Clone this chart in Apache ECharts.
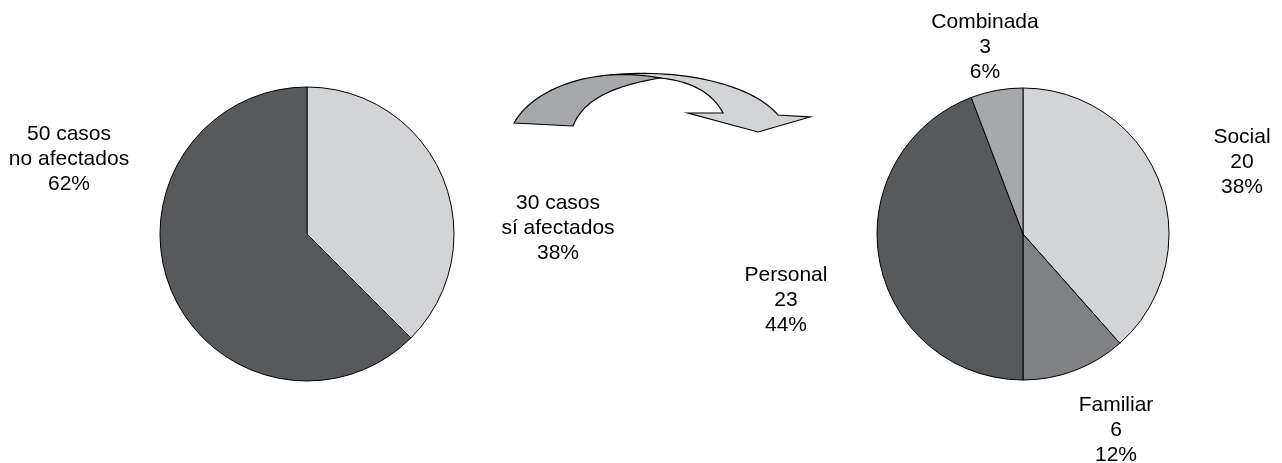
<!DOCTYPE html>
<html>
<head>
<meta charset="utf-8">
<script src="https://cdn.jsdelivr.net/npm/echarts@6/dist/echarts.min.js"></script>
<style>
  html, body { margin: 0; padding: 0; background: #fff; }
  #chart { width: 1282px; height: 463px; }
</style>
</head>
<body>
<div id="chart"></div>
<script>
// Casos afectados / no afectados
const casosNombres = ['sí afectados', 'no afectados'];
const casosValores = [30, 50];

// Tipo de afectación
const tipoNombres = ['Social', 'Familiar', 'Personal', 'Combinada'];
const tipoValores = [20, 6, 23, 3];

const FONT = '"Liberation Sans", Arial, Helvetica, sans-serif';

const chart = echarts.init(document.getElementById('chart'), null, { renderer: 'canvas' });

// Label anchor points (centre of each three-line label block)
const casosLabelPos = [[558, 228], [69, 159]];
const tipoLabelPos = [[1242, 162], [1116, 430], [786, 300], [985, 47]];

function layoutFrom(pos) {
  return function (p) {
    const xy = pos[p.dataIndex];
    return { x: xy[0], y: xy[1], align: 'center', verticalAlign: 'middle' };
  };
}

// Sample a cubic Bezier into polygon points
function cubic(p0, p1, p2, p3, n) {
  const pts = [];
  for (let i = 0; i <= n; i++) {
    const t = i / n, u = 1 - t;
    pts.push([
      u * u * u * p0[0] + 3 * u * u * t * p1[0] + 3 * u * t * t * p2[0] + t * t * t * p3[0],
      u * u * u * p0[1] + 3 * u * u * t * p1[1] + 3 * u * t * t * p2[1] + t * t * t * p3[1]
    ]);
  }
  return pts;
}

// Back (light) part of the twisted arrow, ending in the arrow head
const arrowBack = []
  .concat(cubic([610, 75], [680, 68], [752, 84], [778, 115], 30))
  .concat([[810, 117], [758, 132], [688, 113], [723, 113]])
  .concat(cubic([723, 113], [712, 92], [690, 81], [660, 78], 20));

// Front (darker) part of the arrow
const arrowFront = []
  .concat(cubic([514, 123], [535, 86], [598, 66], [660, 78], 30))
  .concat(cubic([660, 78], [612, 86], [583, 100], [573, 126], 20));

const labelStyle = {
  show: true,
  color: '#000',
  fontFamily: FONT,
  fontSize: 21,
  lineHeight: 25,
  align: 'center',
  overflow: 'none'
};

chart.setOption({
  animation: false,
  backgroundColor: '#fff',
  graphic: [
    {
      type: 'polygon',
      shape: { points: arrowBack },
      style: { fill: '#d3d4d6', stroke: '#000', lineWidth: 1.2, lineJoin: 'miter' }
    },
    {
      type: 'polygon',
      shape: { points: arrowFront },
      style: { fill: '#a7a8ab', stroke: '#000', lineWidth: 1.2, lineJoin: 'miter' }
    }
  ],
  series: [
    {
      type: 'pie',
      center: [307, 234],
      radius: 147,
      startAngle: 90,
      clockwise: true,
      percentPrecision: 0,
      emphasis: { disabled: true },
      itemStyle: { borderColor: '#000', borderWidth: 1 },
      label: Object.assign({}, labelStyle, {
        formatter: function (p) {
          return p.value + ' casos\n' + p.name + '\n' + p.percent + '%';
        }
      }),
      labelLine: { show: false },
      labelLayout: layoutFrom(casosLabelPos),
      data: casosNombres.map(function (n, i) {
        return {
          name: n,
          value: casosValores[i],
          itemStyle: { color: ['#d3d4d6', '#58595b'][i] }
        };
      })
    },
    {
      type: 'pie',
      center: [1023, 234],
      radius: 146,
      startAngle: 90,
      clockwise: true,
      percentPrecision: 0,
      emphasis: { disabled: true },
      itemStyle: { borderColor: '#000', borderWidth: 1 },
      label: Object.assign({}, labelStyle, {
        formatter: function (p) {
          return p.name + '\n' + p.value + '\n' + p.percent + '%';
        }
      }),
      labelLine: { show: false },
      labelLayout: layoutFrom(tipoLabelPos),
      data: tipoNombres.map(function (n, i) {
        return {
          name: n,
          value: tipoValores[i],
          itemStyle: { color: ['#d3d4d6', '#808184', '#58595b', '#a7a8ab'][i] }
        };
      })
    }
  ]
});
</script>
</body>
</html>
